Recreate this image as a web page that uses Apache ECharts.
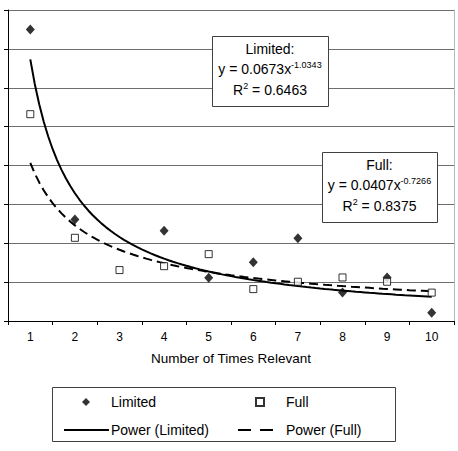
<!DOCTYPE html>
<html>
<head>
<meta charset="utf-8">
<script src="https://cdn.jsdelivr.net/npm/echarts@6/dist/echarts.min.js"></script>
<style>html,body{margin:0;padding:0;background:#fff}#c{width:458px;height:451px}</style>
</head>
<body>
<div id="c"></div>
<script>
// ---- data ----
const categories = ['1','2','3','4','5','6','7','8','9','10'];
const xValues = [1,2,3,4,5,6,7,8,9,10];
const limitedValues = [0.0750, 0.0261, null, 0.0232, 0.0111, 0.0151, 0.0213, 0.0073, 0.0112, 0.0021];
const fullValues = [0.0532, 0.0214, 0.0131, 0.0141, 0.0172, 0.0082, 0.0101, 0.0112, 0.0101, 0.0073];
// power trendline coefficients as printed on the chart: y = a * x^b
const limitedFit = {a: 0.0673, b: -1.0343, r2: '0.6463'};
const fullFit = {a: 0.0407, b: -0.7266, r2: '0.8375'};
const xAxisName = 'Number of Times Relevant';
const seriesNames = ['Limited', 'Full', 'Power (Limited)', 'Power (Full)'];

function pairs(vals){ return xValues.map((x,i)=>[x, vals[i]]).filter(p=>p[1]!==null); }
function fitCurve(f){
  const out=[];
  for(let k=0;k<=90;k++){ const x=1+k*0.1; out.push([x, f.a*Math.pow(x,f.b)]); }
  return out;
}

const FONT = '"Liberation Sans", Arial, sans-serif';
const chart = echarts.init(document.getElementById('c'), null, {renderer:'svg'});

function fitBox(left, top, w, h, title, f){
  const rich = {n:{fontSize:14, fontFamily:FONT, color:'#000', lineHeight:18},
                s:{fontSize:9, fontFamily:FONT, color:'#000', verticalAlign:'top', lineHeight:14}};
  const cx = left + w/2;
  return [
    {type:'rect', left:left, top:top, z:20, shape:{width:w, height:h}, style:{fill:'#fff', stroke:'#404040', lineWidth:1}},
    {type:'text', x:cx, y:top+13, z:21, style:{text:title, fill:'#000', font:'14px '+FONT, align:'center', verticalAlign:'middle'}},
    {type:'text', x:cx, y:top+33, z:21, style:{
      text:'{n|y = '+f.a.toFixed(4)+'x}{s|'+f.b.toFixed(4)+'}', align:'center', verticalAlign:'middle', rich:rich}},
    {type:'text', x:cx, y:top+54, z:21, style:{
      text:'{n|R}{s|2}{n| = '+f.r2+'}', align:'center', verticalAlign:'middle', rich:rich}}
  ];
}

const legendText = {color:'#000', fontSize:14, fontFamily:FONT};

chart.setOption({
  animation:false,
  backgroundColor:'#fff',
  textStyle:{fontFamily:FONT},
  grid:{left:8, right:4, top:10, bottom:130},
  xAxis:[
    {type:'category', data:categories, boundaryGap:true, position:'bottom',
     axisLine:{lineStyle:{color:'#000', width:1}},
     axisTick:{show:true, length:4, lineStyle:{color:'#000'}},
     axisLabel:{color:'#000', fontSize:12, margin:10, fontFamily:FONT},
     splitLine:{show:false},
     name:xAxisName, nameLocation:'middle', nameGap:30,
     nameTextStyle:{color:'#000', fontSize:13.5, fontFamily:FONT}},
    {type:'value', min:0.5, max:10.5, show:false}
  ],
  yAxis:[
    {type:'value', min:0, max:0.08, interval:0.01,
     axisLine:{show:true, lineStyle:{color:'#000', width:1}},
     axisTick:{show:true, length:4, lineStyle:{color:'#000'}},
     axisLabel:{show:false},
     splitLine:{show:true, lineStyle:{color:'#6e6e6e', width:1}}},
    {type:'value', min:0, max:0.08, position:'right',
     axisLine:{show:true, lineStyle:{color:'#b8b8b8', width:1}},
     axisTick:{show:false}, axisLabel:{show:false}, splitLine:{show:false}}
  ],
  legend:[
    {data:[{name:seriesNames[0], icon:'diamond'}], left:82, top:395, padding:0, itemWidth:8, itemHeight:8,
     textStyle:Object.assign({padding:[0,0,0,16]}, legendText)},
    {data:[{name:seriesNames[1], icon:'rect'}], left:255, top:395, padding:0, itemWidth:8, itemHeight:8,
     textStyle:Object.assign({padding:[0,0,0,17]}, legendText)},
    {data:[seriesNames[2]], left:63, top:423, padding:0, itemWidth:45, itemHeight:8,
     itemStyle:{opacity:0}, textStyle:Object.assign({padding:[0,0,0,-3]}, legendText)},
    {data:[seriesNames[3]], left:237, top:423, padding:0, itemWidth:36, itemHeight:8,
     itemStyle:{opacity:0}, lineStyle:{type:[13,9]}, textStyle:Object.assign({padding:[0,0,0,7]}, legendText)}
  ],
  graphic:[
    {type:'rect', left:52, top:387, z:-1, shape:{width:343, height:54}, style:{fill:'#fff', stroke:'#404040', lineWidth:1}}
  ].concat(fitBox(212, 36, 116, 70, 'Limited:', limitedFit), fitBox(322, 152, 115, 70, 'Full:', fullFit)),
  series:[
    {name:seriesNames[2], type:'line', xAxisIndex:1, data:fitCurve(limitedFit), showSymbol:false, symbol:'none',
     lineStyle:{color:'#000', width:2}, itemStyle:{color:'#000'}, z:3},
    {name:seriesNames[3], type:'line', xAxisIndex:1, data:fitCurve(fullFit), showSymbol:false, symbol:'none',
     lineStyle:{color:'#000', width:2, type:[9,5]}, itemStyle:{color:'#000'}, z:3},
    {name:seriesNames[0], type:'scatter', xAxisIndex:1, data:pairs(limitedValues), symbol:'diamond', symbolSize:[9,10],
     itemStyle:{color:'#000'}, z:5},
    {name:seriesNames[1], type:'scatter', xAxisIndex:1, data:pairs(fullValues), symbol:'rect', symbolSize:7,
     itemStyle:{color:'#fff', borderColor:'#000', borderWidth:1}, z:5}
  ]
});
</script>
</body>
</html>
